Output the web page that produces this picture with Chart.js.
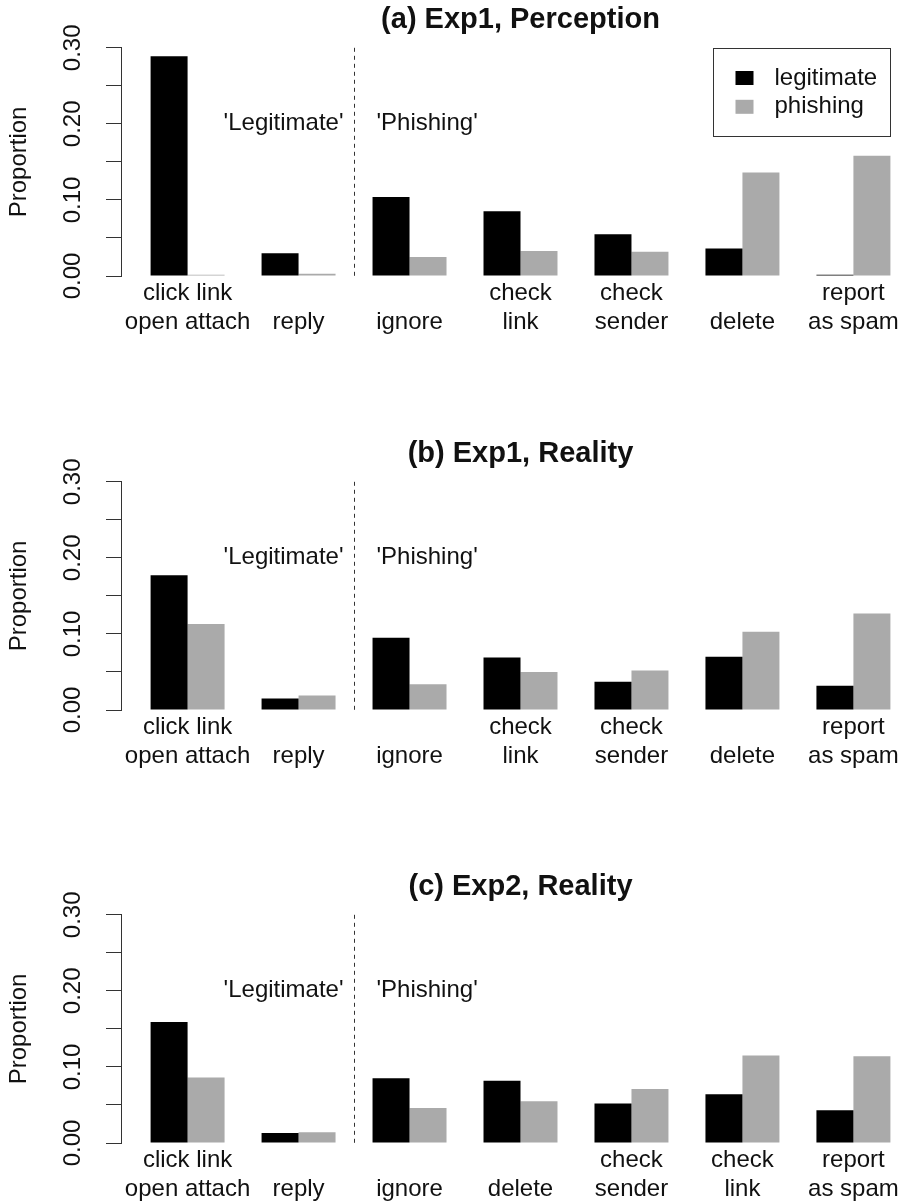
<!DOCTYPE html>
<html>
<head>
<meta charset="utf-8">
<script src="https://cdn.jsdelivr.net/npm/chart.js@4"></script>
<style>
  html, body { margin: 0; padding: 0; background: #fff; overflow: hidden; }
  .panel { width: 902px; overflow: hidden; }
  .panel canvas { display: block; }
</style>
</head>
<body>
<div class="panel" style="height:434px"><canvas id="chartA" width="920" height="340"></canvas></div>
<div class="panel" style="height:433px"><canvas id="chartB" width="920" height="340"></canvas></div>
<div class="panel" style="height:337px"><canvas id="chartC" width="920" height="340"></canvas></div>
<script>
const seriesLabels = ["legitimate", "phishing"];
const seriesColors = ["#000000", "#aaaaaa"];

const panelTitles = ["(a) Exp1, Perception", "(b) Exp1, Reality", "(c) Exp2, Reality"];

// single-line labels get an empty first line so they sit on the second row
const categoriesA = [["click link", "open attach"], ["", "reply"], ["", "ignore"], ["check", "link"], ["check", "sender"], ["", "delete"], ["report", "as spam"]];
const legitA = [0.289, 0.030, 0.104, 0.085, 0.055, 0.036, 0.0015];
const phishA = [0.0015, 0.003, 0.025, 0.033, 0.032, 0.136, 0.158];

const categoriesB = [["click link", "open attach"], ["", "reply"], ["", "ignore"], ["check", "link"], ["check", "sender"], ["", "delete"], ["report", "as spam"]];
const legitB = [0.177, 0.015, 0.095, 0.069, 0.037, 0.070, 0.032];
const phishB = [0.113, 0.019, 0.034, 0.050, 0.052, 0.103, 0.127];

const categoriesC = [["click link", "open attach"], ["", "reply"], ["", "ignore"], ["", "delete"], ["check", "sender"], ["check", "link"], ["report", "as spam"]];
const legitC = [0.159, 0.013, 0.085, 0.082, 0.052, 0.064, 0.043];
const phishC = [0.086, 0.014, 0.046, 0.055, 0.071, 0.115, 0.114];

const yTicks = [0, 0.05, 0.10, 0.15, 0.20, 0.25, 0.30];
const yTickLabels = ["0.00", "", "0.10", "", "0.20", "", "0.30"];

const sideLabels = ["'Legitimate'", "'Phishing'"];
const dividerAt = 2.5;   // between reply and ignore
const sideLabelY = 0.20;

const FONT = "'Liberation Sans', Arial, Helvetica, sans-serif";
Chart.defaults.font.family = FONT;
Chart.defaults.color = "#111";

// R-style extras: dashed divider, quoted side labels, boxed legend
const rDecor = {
  id: "rDecor",
  afterDatasetsDraw(chart, args, opts) {
    const { ctx, scales: { x, y } } = chart;
    const xd = Math.round(x.getPixelForValue(dividerAt)) + 0.5;
    ctx.save();
    ctx.strokeStyle = "#333";
    ctx.lineWidth = 1;
    ctx.setLineDash([4, 4]);
    ctx.beginPath();
    ctx.moveTo(xd, y.getPixelForValue(yTicks[yTicks.length - 1]));
    ctx.lineTo(xd, y.getPixelForValue(0));
    ctx.stroke();
    ctx.setLineDash([]);

    ctx.font = `24px ${FONT}`;
    ctx.fillStyle = "#111";
    ctx.textBaseline = "middle";
    const ty = y.getPixelForValue(sideLabelY);
    ctx.textAlign = "right";
    ctx.fillText(sideLabels[0], xd - 11, ty);
    ctx.textAlign = "left";
    ctx.fillText(sideLabels[1], xd + 22, ty);

    if (opts.legend) {
      const area = chart.chartArea;
      const w = 177, h = 88;
      const left = Math.round(area.right - 30 - w) + 0.5;
      const top = Math.round(area.top) + 0.5;
      ctx.strokeStyle = "#333";
      ctx.strokeRect(left, top, w, h);
      chart.data.datasets.forEach((ds, i) => {
        const cy = top + 29.5 + i * 28.8;
        ctx.fillStyle = ds.backgroundColor;
        ctx.fillRect(left + 22, cy - 7, 18, 14);
        ctx.fillStyle = "#111";
        ctx.fillText(ds.label, left + 61, cy);
      });
    }
    ctx.restore();
  }
};

function makePanel(id, title, categories, legit, phish, showLegend) {
  return new Chart(document.getElementById(id), {
    type: "bar",
    data: {
      datasets: [
        { label: seriesLabels[0], data: legit.map((v, i) => ({ x: i + 1, y: v })), backgroundColor: seriesColors[0], borderWidth: 0 },
        { label: seriesLabels[1], data: phish.map((v, i) => ({ x: i + 1, y: v })), backgroundColor: seriesColors[1], borderWidth: 0 }
      ]
    },
    options: {
      responsive: false,
      animation: false,
      devicePixelRatio: 1,
      events: [],
      layout: { padding: 0 },
      datasets: { bar: { categoryPercentage: 2 / 3, barPercentage: 1 } },
      plugins: {
        legend: { display: false },
        tooltip: { enabled: false },
        title: {
          display: true,
          text: title,
          fullSize: false,
          color: "#111",
          font: { size: 29, weight: "bold", lineHeight: 1.2 },
          padding: { top: 3, bottom: 10 }
        },
        rDecor: { legend: showLegend }
      },
      scales: {
        x: {
          type: "linear",
          offset: false,
          min: 0.4,
          max: 7.6,
          afterBuildTicks: (scale) => { scale.ticks = categories.map((c, i) => ({ value: i + 1 })); },
          afterFit: (scale) => { scale.height = 64; },
          grid: { display: false, drawTicks: false },
          border: { display: false },
          ticks: {
            autoSkip: false,
            maxRotation: 0,
            padding: 3,
            color: "#111",
            font: { size: 24, lineHeight: 1.2 },
            callback: (v, i) => categories[i]
          }
        },
        y: {
          min: 0,
          max: 0.30,
          afterBuildTicks: (scale) => { scale.ticks = yTicks.map((v) => ({ value: v })); },
          afterFit: (scale) => { scale.width = 121; },
          grid: { drawOnChartArea: false, drawTicks: true, tickLength: 15, color: "#333", lineWidth: 1 },
          border: { display: true, color: "#333", width: 1 },
          title: {
            display: true,
            text: "Proportion",
            color: "#111",
            font: { size: 24, lineHeight: 1.2 },
            padding: { top: 5, bottom: 0 }
          },
          ticks: {
            autoSkip: false,
            minRotation: 90,
            maxRotation: 90,
            crossAlign: "center",
            padding: 9,
            color: "#111",
            font: { size: 24, lineHeight: 1.2 },
            callback: (v, i) => yTickLabels[i]
          }
        }
      }
    },
    plugins: [rDecor]
  });
}

makePanel("chartA", panelTitles[0], categoriesA, legitA, phishA, true);
makePanel("chartB", panelTitles[1], categoriesB, legitB, phishB, false);
makePanel("chartC", panelTitles[2], categoriesC, legitC, phishC, false);
</script>
</body>
</html>
